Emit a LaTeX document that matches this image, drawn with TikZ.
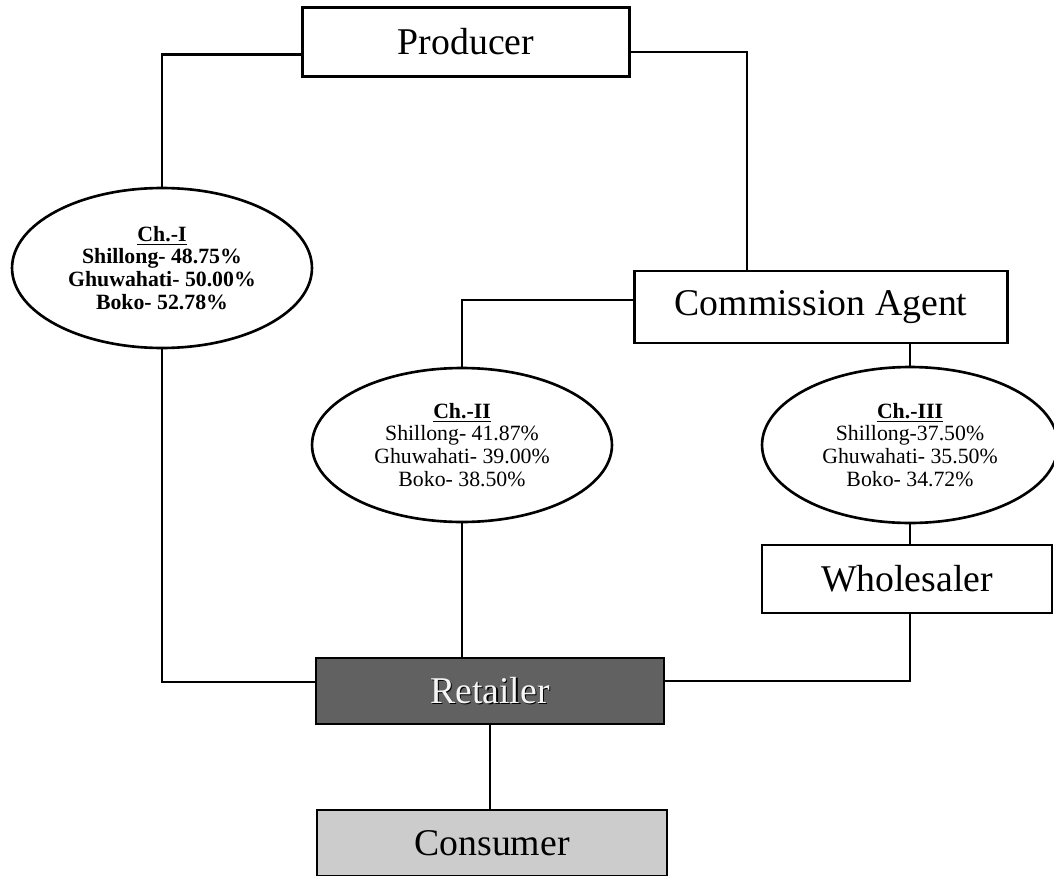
\documentclass[tikz,border=0pt]{standalone}
\usepackage{fontspec}
\setmainfont{Liberation Serif}
\usepackage{tikz}
\usetikzlibrary{shapes.geometric}
\newcommand{\embossed}[1]{\rlap{\kern0.8pt\raisebox{-0.8pt}{#1}}\textcolor{gray!8}{#1}}

\begin{document}
\begin{tikzpicture}[x=0.02cm,y=-0.02cm,line width=1.3pt,
  box/.style={draw,line width=1.5pt,inner sep=0pt,font=\fontsize{21.5}{24}\selectfont},
  chan/.style={draw,ellipse,line width=1.5pt,inner sep=0pt,align=center,font=\fontsize{12.4}{13}\selectfont}]
\useasboundingbox (0,0) rectangle (1054,875);
\clip (0,0) rectangle (1054,875);
% boxes
\node[box,minimum width=6.54cm,minimum height=1.38cm] (producer) at (466,42) {Producer};
\node[box,minimum width=7.46cm,minimum height=1.44cm] (agent) at (821,307) {Commission Agent};
\node[box,minimum width=5.8cm,minimum height=1.36cm] (wholesaler) at (907,579) {Wholesaler};
\node[box,fill=black!62,minimum width=6.96cm,minimum height=1.32cm] (retailer) at (490,691) {\embossed{Retailer}};
\node[box,fill=black!20,minimum width=7.0cm,minimum height=1.32cm] (consumer) at (492,843) {Consumer};
% channels
\node[chan,minimum width=6cm,minimum height=3.2cm] (chone) at (162,268)
  {\bfseries\underline{Ch.-I}\\ \bfseries Shillong- 48.75\%\\ \bfseries Ghuwahati- 50.00\%\\ \bfseries Boko- 52.78\%};
\node[chan,minimum width=6cm,minimum height=3.08cm] (chtwo) at (462,445)
  {\textbf{\underline{Ch.-II}}\\ Shillong- 41.87\%\\ Ghuwahati- 39.00\%\\ Boko- 38.50\%};
\node[chan,minimum width=5.92cm,minimum height=3.12cm] (chthree) at (910,445)
  {\textbf{\underline{Ch.-III}}\\ Shillong-37.50\%\\ Ghuwahati- 35.50\%\\ Boko- 34.72\%};
% connectors
\draw ([yshift=-0.25cm]producer.west) -| (chone.north);
\draw ([yshift=-0.2cm]producer.east) -| ([xshift=-1.48cm]agent.north);
\draw ([yshift=0.14cm]agent.west) -| (chtwo.north);
\draw (chthree.north |- agent.south) -- (chthree.north);
\draw (chthree.south) -- (chthree.south |- wholesaler.north);
\draw (chone.south) |- ([yshift=0.18cm]retailer.west);
\draw (chtwo.south) -- (chtwo.south |- retailer.north);
\draw (chthree.south |- wholesaler.south) |- ([yshift=0.2cm]retailer.east);
\draw (retailer.south) -- (retailer.south |- consumer.north);
\end{tikzpicture}
\end{document}
